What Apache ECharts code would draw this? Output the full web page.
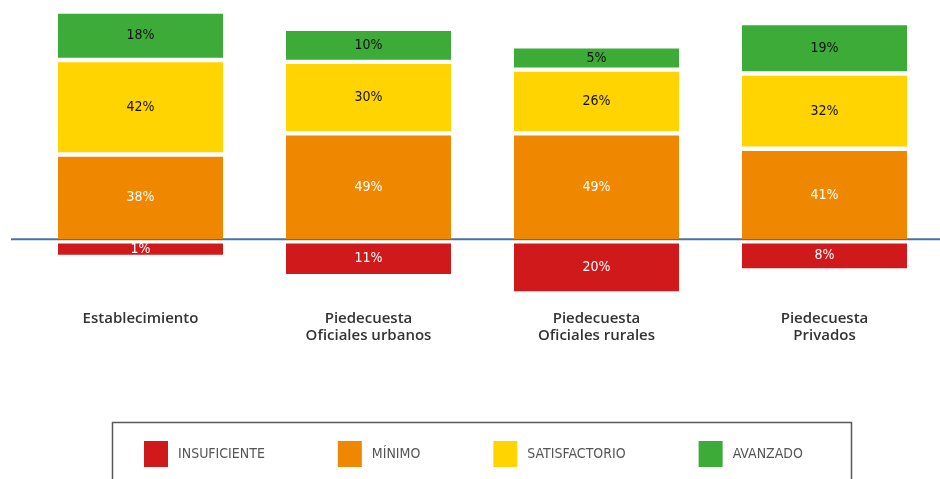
<!DOCTYPE html>
<html>
<head>
<meta charset="utf-8">
<script src="https://cdn.jsdelivr.net/npm/echarts@6/dist/echarts.min.js"></script>
<style>
  html, body { margin: 0; padding: 0; background: #ffffff; }
  #chart { width: 940px; height: 479px; }
</style>
</head>
<body>
<div id="chart"></div>
<script>
// Performance levels per group (percent of students)
const categories = [
  'Establecimiento',
  'Piedecuesta\nOficiales urbanos',
  'Piedecuesta\nOficiales rurales',
  'Piedecuesta\nPrivados'
];
const levelNames = ['INSUFICIENTE', 'MÍNIMO', 'SATISFACTORIO', 'AVANZADO'];
const insuficiente = [1, 11, 20, 8];
const minimo = [38, 49, 49, 41];
const satisfactorio = [42, 30, 26, 32];
const avanzado = [18, 10, 5, 19];

const levelColors = ['#cf191b', '#f08700', '#ffd400', '#3cab37'];
const labelColors = ['#ffffff', '#ffffff', '#111111', '#111111'];

// Segment layout: each block gets a fixed padding on top of its scaled height,
// and a white inset separates neighbouring blocks.
const SLOT_PAD = 13.8;
const INSET = 2.2;
const BASE_OFFSET = 1.7;
const BAR_RATIO = 0.7237;
const LABEL_FONT = '14px "DejaVu Sans Condensed", "Liberation Sans Narrow", sans-serif';
const CATEGORY_FONT = '600 15px "Open Sans", sans-serif';

const levels = [insuficiente, minimo, satisfactorio, avanzado];

// Rows: [categoryIndex, value, sum of values stacked below, blocks stacked below]
function buildRows(levelIdx) {
  return categories.map(function (c, i) {
    let below = 0, count = 0;
    if (levelIdx > 0) {
      for (let j = 1; j < levelIdx; j++) { below += levels[j][i]; count++; }
    }
    return [i, levels[levelIdx][i], below, count];
  });
}

function makeRenderer(levelIdx) {
  return function (params, api) {
    const cat = api.value(0);
    const v = api.value(1);
    const below = api.value(2);
    const count = api.value(3);
    const zero = api.coord([cat, 0]);
    const band = api.size([1, 0])[0];
    const w = band * BAR_RATIO;
    const base = zero[1] + BASE_OFFSET;
    const h = api.size([1, v])[1] + SLOT_PAD;
    let top, bottom;
    if (levelIdx === 0) {
      top = base;
      bottom = base + h;
    } else {
      bottom = base - (api.size([1, below])[1] + count * SLOT_PAD);
      top = bottom - h;
    }
    return {
      type: 'rect',
      shape: { x: zero[0] - w / 2, y: top + INSET, width: w, height: h - 2 * INSET },
      style: { fill: levelColors[levelIdx] },
      textContent: {
        style: {
          text: v + '%',
          fill: labelColors[levelIdx],
          font: LABEL_FONT,
          align: 'center',
          verticalAlign: 'middle'
        }
      },
      textConfig: { position: 'inside' }
    };
  };
}

const series = levelNames.map(function (name, idx) {
  return {
    name: name,
    type: 'custom',
    renderItem: makeRenderer(idx),
    itemStyle: { color: levelColors[idx] },
    encode: { x: 0, y: 1 },
    data: buildRows(idx),
    clip: false,
    z: 2
  };
});

const chart = echarts.init(document.getElementById('chart'), null, { renderer: 'canvas' });
chart.setOption({
  animation: false,
  backgroundColor: '#ffffff',
  grid: {
    left: 26.5, right: 1.5, top: 47.5, bottom: 47.5,
    containLabel: false,
    outerBoundsMode: 'none'
  },
  xAxis: {
    type: 'category',
    data: categories,
    axisLine: { show: false },
    axisTick: { show: false },
    axisLabel: { show: false }
  },
  yAxis: {
    type: 'value',
    min: -100,
    max: 100,
    show: false,
    splitLine: { show: false }
  },
  legend: {
    left: 144,
    top: 441,
    padding: 0,
    itemWidth: 24,
    itemHeight: 26,
    itemGap: 73,
    icon: 'rect',
    data: levelNames,
    textStyle: {
      color: '#555555',
      fontFamily: '"DejaVu Sans Condensed", "Liberation Sans Narrow", sans-serif',
      fontSize: 14,
      padding: [0, 0, 0, 5]
    }
  },
  series: series
});

// Baseline across the full width, category names under the bars,
// and the frame around the legend
const zeroY = chart.convertToPixel({ yAxisIndex: 0 }, 0) - 0.2;
const graphics = [
  {
    type: 'line',
    shape: { x1: 11, y1: zeroY, x2: 940, y2: zeroY },
    style: { stroke: '#4a70aa', lineWidth: 2 },
    z: 1
  },
  {
    type: 'rect',
    shape: { x: 112.5, y: 422.5, width: 739, height: 80 },
    style: { fill: 'none', stroke: '#5a5a5a', lineWidth: 1.5 },
    z: 0
  }
];
categories.forEach(function (name, i) {
  const cx = chart.convertToPixel({ xAxisIndex: 0 }, i);
  graphics.push({
    type: 'text',
    x: cx,
    y: zeroY + 71,
    style: {
      text: name,
      font: CATEGORY_FONT,
      fill: '#333333',
      align: 'center',
      verticalAlign: 'top',
      lineHeight: 17
    },
    z: 3
  });
});
chart.setOption({ graphic: graphics });
</script>
</body>
</html>
